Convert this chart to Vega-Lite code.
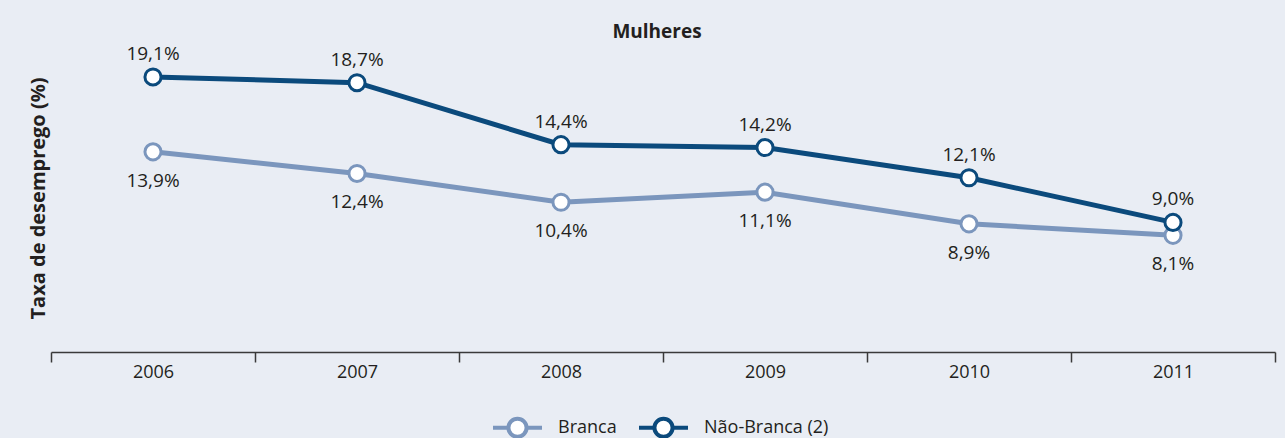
{
  "$schema": "https://vega.github.io/schema/vega-lite/v6.json",
  "width": 1224,
  "height": 288,
  "autosize": {"type": "none"},
  "padding": {"left": 51, "top": 64, "right": 10, "bottom": 86},
  "background": "#e9edf4",
  "config": {
    "view": {"stroke": null},
    "font": "Open Sans",
    "text": {"font": "Open Sans"}
  },
  "title": {
    "text": "Mulheres",
    "font": "Open Sans",
    "fontSize": 19,
    "fontWeight": "bold",
    "color": "#231f20",
    "anchor": "middle",
    "dx": -6,
    "offset": 3
  },
  "data": {
    "values": [
      {"ano": "2006", "grupo": "Branca", "taxa": 13.9},
      {"ano": "2007", "grupo": "Branca", "taxa": 12.4},
      {"ano": "2008", "grupo": "Branca", "taxa": 10.4},
      {"ano": "2009", "grupo": "Branca", "taxa": 11.1},
      {"ano": "2010", "grupo": "Branca", "taxa": 8.9},
      {"ano": "2011", "grupo": "Branca", "taxa": 8.1},
      {"ano": "2006", "grupo": "Não-Branca (2)", "taxa": 19.1},
      {"ano": "2007", "grupo": "Não-Branca (2)", "taxa": 18.7},
      {"ano": "2008", "grupo": "Não-Branca (2)", "taxa": 14.4},
      {"ano": "2009", "grupo": "Não-Branca (2)", "taxa": 14.2},
      {"ano": "2010", "grupo": "Não-Branca (2)", "taxa": 12.1},
      {"ano": "2011", "grupo": "Não-Branca (2)", "taxa": 9.0}
    ]
  },
  "transform": [
    {"calculate": "replace(format(datum.taxa, '.1f'), '.', ',') + '%'", "as": "rotulo"}
  ],
  "encoding": {
    "x": {
      "field": "ano",
      "type": "nominal",
      "bandPosition": 0.5,
      "scale": {"type": "band", "paddingInner": 0, "paddingOuter": 0},
      "axis": {
        "title": null,
        "labelAngle": 0,
        "tickBand": "extent",
        "domainColor": "#3a3a3a",
        "domainWidth": 1.5,
        "tickColor": "#3a3a3a",
        "tickWidth": 1.5,
        "tickSize": 10,
        "labelFont": "Open Sans",
        "labelFontSize": 18,
        "labelColor": "#231f20",
        "labelPadding": 1
      }
    },
    "y": {
      "field": "taxa",
      "type": "quantitative",
      "scale": {"domain": [0, 20], "nice": false, "zero": true},
      "axis": {
        "title": "Taxa de desemprego (%)",
        "titleFont": "Open Sans",
        "titleFontSize": 20,
        "titleFontWeight": "bold",
        "titleColor": "#231f20",
        "titleX": -13,
        "titleY": 134,
        "titleBaseline": "middle",
        "titleAngle": -90,
        "titleAlign": "center",
        "labels": false,
        "ticks": false,
        "domain": false,
        "grid": false
      }
    },
    "color": {
      "field": "grupo",
      "type": "nominal",
      "scale": {"domain": ["Branca", "Não-Branca (2)"], "range": ["#7b96bd", "#0b4a7c"]},
      "legend": {
        "title": null,
        "orient": "none",
        "direction": "horizontal",
        "legendX": 440,
        "legendY": 337,
        "padding": 0,
        "symbolType": "M-1,0H-0.37M0.37,0H1M0.37,0A0.37,0.37 0 1,1 -0.37,0A0.37,0.37 0 1,1 0.37,0Z",
        "symbolSize": 2401,
        "symbolFillColor": "white",
        "symbolStrokeWidth": 4,
        "symbolOpacity": 1,
        "labelFont": "Open Sans",
        "labelFontSize": 18,
        "labelColor": "#231f20",
        "labelOffset": 14,
        "columnPadding": 14
      }
    }
  },
  "layer": [
    {
      "mark": {"type": "line", "strokeWidth": 5}
    },
    {
      "mark": {"type": "point", "filled": false, "fill": "white", "fillOpacity": 1, "opacity": 1, "strokeWidth": 3, "size": 260}
    },
    {
      "transform": [{"filter": "datum.grupo === 'Não-Branca (2)'"}],
      "mark": {"type": "text", "dy": -23, "fontSize": 19, "color": "#231f20", "font": "Open Sans"},
      "encoding": {"text": {"field": "rotulo"}, "color": {"value": "#231f20"}}
    },
    {
      "transform": [{"filter": "datum.grupo === 'Branca'"}],
      "mark": {"type": "text", "dy": 29, "fontSize": 19, "color": "#231f20", "font": "Open Sans"},
      "encoding": {"text": {"field": "rotulo"}, "color": {"value": "#231f20"}}
    }
  ]
}
